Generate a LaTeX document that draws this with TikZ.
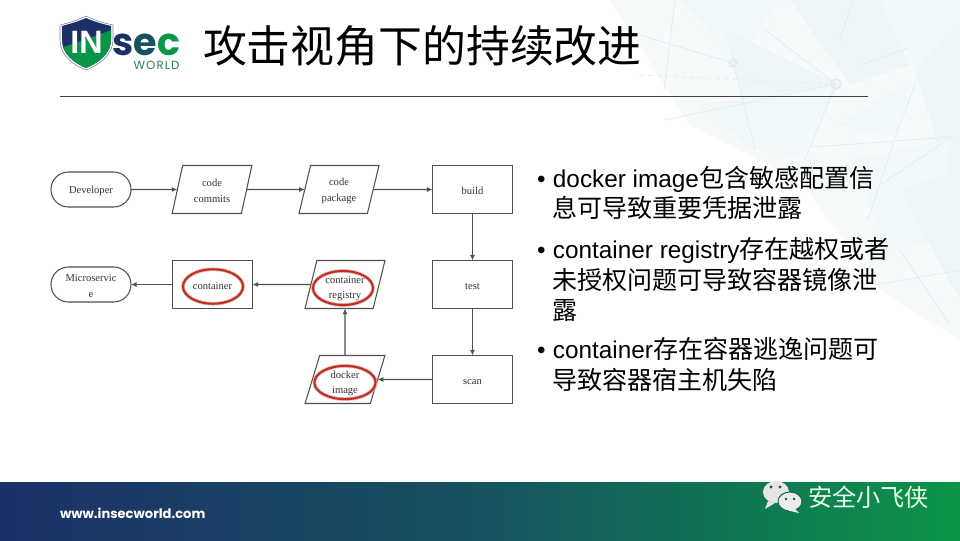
\documentclass[tikz,border=0pt]{standalone}
\usepackage{fontspec}
\setmainfont{Liberation Sans}
\newfontfamily\cjkfont{Noto Sans CJK SC}
\newfontfamily\cjkbody[Scale=1.03]{Noto Sans CJK SC}
\newfontfamily\flowfont{Liberation Serif}
\newfontfamily\logofont{Poppins}
\usetikzlibrary{arrows.meta,shapes.geometric,positioning}
\definecolor{insecnavy}{RGB}{28,48,104}
\definecolor{insecmid}{RGB}{22,82,96}
\definecolor{insecgreen}{RGB}{11,149,72}
\definecolor{flowline}{RGB}{80,80,80}
\definecolor{markred}{RGB}{190,48,36}
\definecolor{polya}{RGB}{241,248,249}
\definecolor{polyb}{RGB}{236,245,247}
\definecolor{polyc}{RGB}{246,250,251}
\definecolor{polyline}{RGB}{224,235,237}
\newcommand{\flowstrut}{\rule{0pt}{7.5pt}}
\newcommand{\flowstrutlow}{\rule{0pt}{11pt}}

\begin{document}
\begin{tikzpicture}[
  x=0.025cm, y=-0.025cm,
  every node/.style={inner sep=0pt, outer sep=0pt},
  flowbox/.style={draw=flowline, line width=0.75pt, minimum width=2cm, minimum height=1.2cm,
                  align=center, font=\flowfont\fontsize{7.5pt}{11pt}\selectfont, text=black!80},
  flowdata/.style={flowbox, trapezium, trapezium left angle=76, trapezium right angle=104,
                   trapezium stretches=true},
  flowend/.style={flowbox, minimum height=0.875cm, rounded corners=12.4pt},
  arrow/.style={-{Latex[length=4pt,width=3.6pt]}, line width=0.85pt, flowline},
  redmark/.style={ellipse, draw=markred, line width=1.5pt,
                  preaction={draw=markred!35, line width=2.6pt}},
  bullet/.style={anchor=west, align=left, font=\fontsize{17.3pt}{21.7pt}\selectfont, text=black},
  polyedge/.style={draw=polyline, line width=0.5pt},
]
\useasboundingbox (0,0) rectangle (960,540);

%% ── Background ─────────────────────────────────────────────────────────────
\fill[white] (0,0) rectangle (960,540);
\fill[polyc] (610,0) -- (960,0) -- (960,340) -- (880,290) -- (800,180) -- (690,125) -- cycle;
\fill[polya] (680,0) -- (780,0) -- (736,60) -- cycle;
\fill[polyb] (725,30) -- (840,85) -- (800,150) -- (755,150) -- cycle;
\fill[polya] (700,105) -- (838,85) -- (805,155) -- (750,150) -- cycle;
\fill[polyb] (790,0) -- (880,0) -- (910,65) -- (850,85) -- cycle;
\fill[polya] (880,0) -- (960,0) -- (960,125) -- (925,90) -- cycle;
\fill[polyb] (915,70) -- (960,20) -- (960,260) -- (935,135) -- cycle;
\fill[polya] (838,125) -- (912,80) -- (895,137) -- cycle;
\fill[polya] (850,160) -- (950,140) -- (945,240) -- (890,250) -- cycle;
\fill[polyb] (900,190) -- (960,170) -- (960,300) -- cycle;
\draw[polyedge] (640,35) -- (733,63) -- (755,150);
\draw[polyedge] (765,30) -- (836,84) -- (805,160);
\draw[polyedge] (812,147) -- (952,137) -- (880,185);
\draw[polyedge] (675,0) -- (664,90);
\draw[polyedge] (853,0) -- (840,40);
\draw[polyedge] (915,85) -- (895,137) -- (868,220);
\draw[polyedge] (908,48) -- (860,65);
\draw[polyedge] (836,84) -- (665,120);
\draw[polyedge] (900,250) -- (950,325);
\draw[polyedge] (875,285) -- (960,270);
\draw[polyedge, dashed] (640,75) -- (836,84);
\node[circle, draw=polyline, line width=1.2pt, minimum size=0.18cm] (nodeA) at (733,63) {};
\node[circle, draw=polyline, line width=1.2pt, minimum size=0.24cm] (nodeB) at (836,84) {};

%% ── Logo and title ─────────────────────────────────────────────────────────
\fill[white, draw=insecnavy!60, line width=0.4pt]
  (86,16) .. controls (76,21) and (68,23) .. (60,25) -- (60,40)
  .. controls (60,55) and (73,65) .. (86,70) .. controls (99,65) and (113,55) .. (113,40)
  -- (113,25) .. controls (104,23) and (96,21) .. (86,16) -- cycle;
\begin{scope}
  \clip (86,18) .. controls (77,22) and (69,24) .. (62,26) -- (62,40)
    .. controls (62,54) and (74,63) .. (86,68) .. controls (98,63) and (111,54) .. (111,40)
    -- (111,26) .. controls (103,24) and (95,22) .. (86,18) -- cycle;
  \fill[insecnavy] (55,10) rectangle (115,75);
  \fill[insecgreen] (55,50) -- (112,30) -- (115,75) -- (55,75) -- cycle;
\end{scope}
\node[text=white, font=\fontsize{23pt}{23pt}\bfseries\selectfont] (logoIN) at (86.5,42.5) {IN};
\node[anchor=base west, font=\logofont\fontsize{27pt}{27pt}\bfseries\selectfont] (logoSec)
  at (112.5,55) {\textcolor{insecnavy}{s}\textcolor{insecmid}{e}\textcolor{insecgreen}{c}};
\node[text=insecgreen!70!black!85, font=\logofont\fontsize{8.4pt}{9pt}\addfontfeature{LetterSpace=9}\selectfont] (logoWorld)
  at (156.5,65.5) {WORLD};
\node[anchor=west, font=\cjkfont\fontsize{31.2pt}{31.2pt}\selectfont] (title) at (203,46)
  {攻击视角下的持续改进};
\coordinate (ruleL) at (60,96.5);
\coordinate (ruleR) at (868,96.5);
\draw[black!75, line width=0.8pt] (ruleL) -- (ruleR);

%% ── Flow, upper row ────────────────────────────────────────────────────────
\node[flowend]  (developer) at (91,189.5)    {\flowstrut Developer};
\node[flowdata] (commits)   at (212,189.5)   {\flowstrut code\\commits};
\node[flowdata] (package)   at (339,189.5)   {\flowstrut code\\package};
\node[flowbox]  (build)     at (472.5,189.5) {\flowstrut build};

%% ── Flow, lower rows ───────────────────────────────────────────────────────
\node[flowbox]  (test)      at (472.5,284.5) {\flowstrut test};
\node[flowbox]  (scan)      at (472.5,379.5) {\flowstrut scan};
\node[flowdata] (image)     at (345,379.5)   {\flowstrutlow docker\\image};
\node[flowdata] (registry)  at (345,284.5)   {\flowstrutlow container\\registry};
\node[flowbox]  (container) at (212.5,284.5) {\flowstrut container};
\node[flowend]  (micro)     at (91,284.5)    {\flowstrut Microservic\\e};

%% ── Connectors ─────────────────────────────────────────────────────────────
\draw[arrow] (developer) -- (commits);
\draw[arrow] (commits) -- (package);
\draw[arrow] (package) -- (build);
\draw[arrow] (build) -- (test);
\draw[arrow] (test) -- (scan);
\draw[arrow] (scan) -- (image);
\draw[arrow] (image) -- (registry);
\draw[arrow] (registry) -- (container);
\draw[arrow] (container) -- (micro);

%% ── Red marks ──────────────────────────────────────────────────────────────
\node[redmark, minimum width=1.5cm, minimum height=0.86cm]  (markContainer) at (213,286.5) {};
\node[redmark, minimum width=1.5cm, minimum height=0.85cm]  (markRegistry)  at (343,288) {};
\node[redmark, minimum width=1.53cm, minimum height=0.83cm] (markImage)     at (345,382.5) {};

%% ── Bullets ────────────────────────────────────────────────────────────────
\node[bullet] (pointA) at (537,193)
  {•\hspace{5.3pt}docker image{\cjkbody 包含敏感配置信}\\
   \hspace*{10.7pt}{\cjkbody 息可导致重要凭据泄露}};
\node[bullet] (pointB) at (537,279.5)
  {•\hspace{5.3pt}container registry{\cjkbody 存在越权或者}\\
   \hspace*{10.7pt}{\cjkbody 未授权问题可导致容器镜像泄}\\
   \hspace*{10.7pt}{\cjkbody 露}};
\node[bullet] (pointC) at (537,364.5)
  {•\hspace{5.3pt}container{\cjkbody 存在容器逃逸问题可}\\
   \hspace*{10.7pt}{\cjkbody 导致容器宿主机失陷}};

%% ── Footer ─────────────────────────────────────────────────────────────────
\path[left color=insecnavy, right color=insecgreen, middle color=insecmid]
  (0,482) rectangle (960,540);
\node[anchor=west, text=white, font=\logofont\fontsize{9.3pt}{10pt}\bfseries\selectfont] (site)
  at (60,513) {www.insecworld.com};
\fill[black!10!white] (776,492) ellipse (13 and 11);
\fill[black!10!white] (768,501) -- (765,509) -- (775,503) -- cycle;
\draw[insecmid!70!insecgreen, line width=0.7pt, fill=black!8!white] (790,501.5) ellipse (12 and 9.5);
\fill[black!8!white] (795,509) -- (799,513) -- (788,510.5) -- cycle;
\fill[insecmid] (771,487) circle (1.6) (780,487) circle (1.6) (786,499) circle (1.3) (794,499) circle (1.3);
\node[anchor=west, text=white!92!green, font=\cjkfont\fontsize{17.2pt}{17.2pt}\selectfont] (wechat)
  at (808,497) {安全小飞侠};

\end{tikzpicture}
\end{document}
